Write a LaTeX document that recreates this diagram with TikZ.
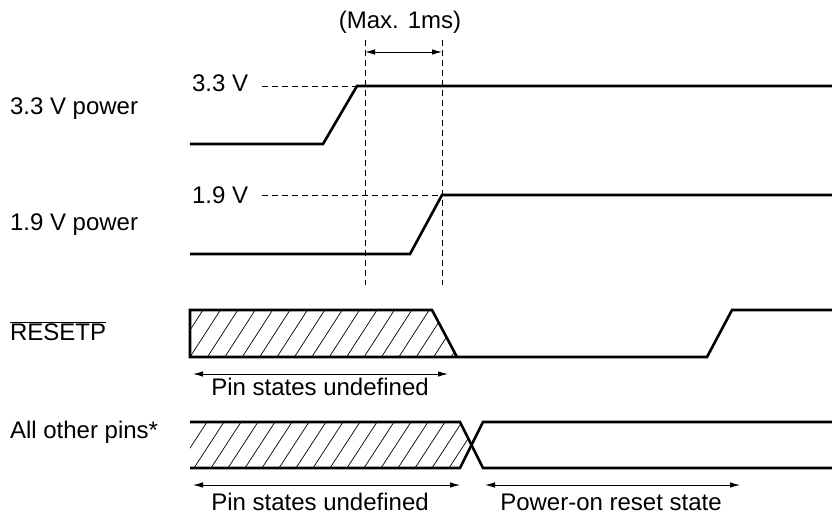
\documentclass[tikz,border=0pt]{standalone}
\usepackage{fontspec}
\setmainfont{Liberation Sans}
\usetikzlibrary{arrows.meta}
\begin{document}
\begin{tikzpicture}[x=1pt,y=-1pt,
  every node/.style={inner sep=0pt, outer sep=0pt, font=\fontsize{24}{28}\selectfont},
  sig/.style={line width=2.6pt, line join=miter, miter limit=6},
  guide/.style={line width=0.9pt, dash pattern=on 6pt off 4pt},
  dimarrow/.style={line width=0.9pt, {Latex[length=10pt,width=5.5pt]}-{Latex[length=10pt,width=5.5pt]}},
  hatchline/.style={line width=0.7pt}]
\useasboundingbox (0,0) rectangle (832,516);

% ---- labels ----
\node[anchor=base west] (l33) at (10,115) {3.3 V power};
\node[anchor=base west] (l19) at (10,230) {1.9 V power};
\node[anchor=base west] (lrst) at (10,340) {$\overline{\mbox{RESETP}}$};
\node[anchor=base west] (loth) at (10,438) {All other pins*};
\node[anchor=base west] (v33) at (192,92) {3.3 V};
\node[anchor=base west] (v19) at (192,203) {1.9 V};
\node[anchor=base] (max) at (400,29) {(Max. 1ms)};

% ---- timing guides ----
\coordinate (g1t) at (365,40); \coordinate (g1b) at (365,285);
\coordinate (g2t) at (442,40); \coordinate (g2b) at (442,285);
\draw[guide] (g1t) -- (g1b);
\draw[guide] (g2t) -- (g2b);
\coordinate (m1) at (365,52); \coordinate (m2) at (442,52);
\draw[dimarrow] (m1) -- (m2);

% ---- 3.3 V power ----
\coordinate (a1) at (190,144); \coordinate (a2) at (323,144);
\coordinate (a3) at (357,86);  \coordinate (a4) at (832,86);
\coordinate (d33) at (262,86);
\draw[guide] (d33) -- (a3);
\draw[sig] (a1) -- (a2) -- (a3) -- (a4);

% ---- 1.9 V power ----
\coordinate (b1) at (190,254); \coordinate (b2) at (410,254);
\coordinate (b3) at (442,195); \coordinate (b4) at (832,195);
\coordinate (d19) at (262,195);
\draw[guide] (d19) -- (b3);
\draw[sig] (b1) -- (b2) -- (b3) -- (b4);

% ---- RESETP ----
\coordinate (r1) at (190,310); \coordinate (r2) at (432,310);
\coordinate (r3) at (457,357); \coordinate (r4) at (190,357);
\coordinate (r5) at (707,357); \coordinate (r6) at (732,310);
\coordinate (r7) at (832,310);
\begin{scope}
  \clip (r1) -- (r2) -- (r3) -- (r4) -- cycle;
  \foreach \k in {-3,...,18} \draw[hatchline] ({203+17.4*\k},310) -- ++(-31,48);
\end{scope}
\draw[sig] (r3) -- (r4) -- (r1) -- (r2) -- (r3) -- (r5) -- (r6) -- (r7);
\coordinate (ra1) at (193,374); \coordinate (ra2) at (448,374);
\draw[dimarrow] (ra1) -- (ra2);
\node[anchor=base] (t1) at (320,395) {Pin states undefined};

% ---- All other pins ----
\coordinate (o1) at (190,422); \coordinate (o2) at (460,422);
\coordinate (o3) at (471.5,445); \coordinate (o4) at (460,468);
\coordinate (o5) at (190,468); \coordinate (o6) at (483,468);
\coordinate (o7) at (483,422); \coordinate (o8) at (832,468);
\coordinate (o9) at (832,422);
\begin{scope}
  \clip (o1) -- (o2) -- (o3) -- (o4) -- (o5) -- cycle;
  \foreach \k in {-3,...,18} \draw[hatchline] ({207+17*\k},422) -- ++(-30,46);
\end{scope}
\draw[sig] (o1) -- (o2) -- (o6) -- (o8);
\draw[sig] (o5) -- (o4) -- (o7) -- (o9);
\coordinate (oa1) at (193,485); \coordinate (oa2) at (460,485);
\coordinate (oa3) at (485,485); \coordinate (oa4) at (740,485);
\draw[dimarrow] (oa1) -- (oa2);
\draw[dimarrow] (oa3) -- (oa4);
\node[anchor=base] (t2) at (320,510) {Pin states undefined};
\node[anchor=base] (t3) at (611,510) {Power-on reset state};
\end{tikzpicture}
\end{document}
